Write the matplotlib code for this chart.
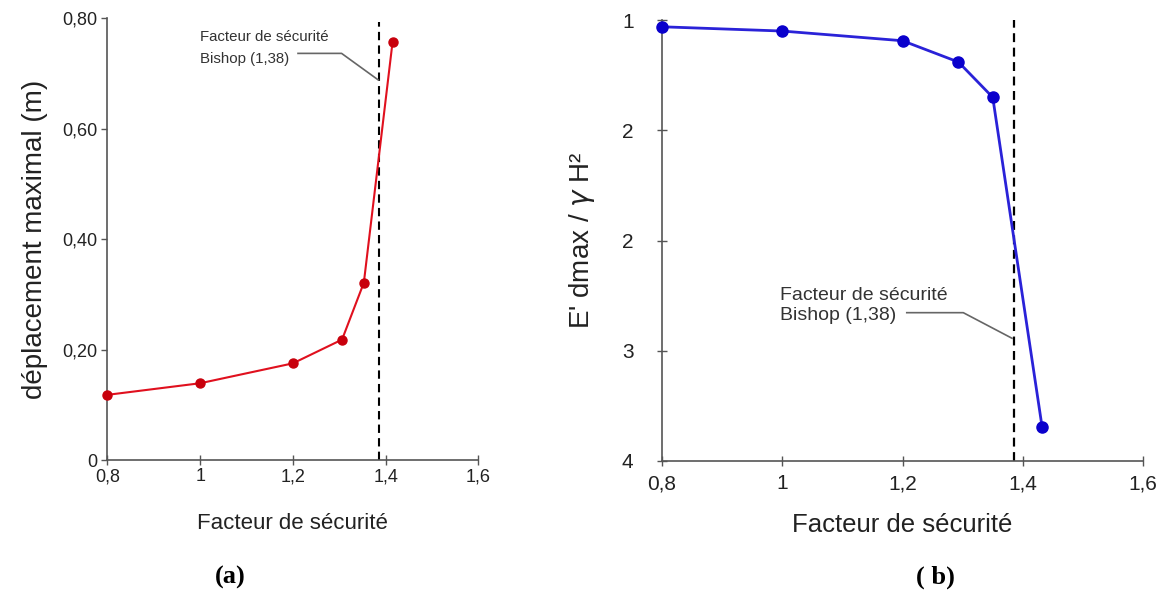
import matplotlib
matplotlib.use('Agg')
import matplotlib.pyplot as plt

plt.rcParams['font.family'] = ['Liberation Sans', 'DejaVu Sans']

# (a) maximum displacement vs safety factor
fs_a = [0.80, 1.00, 1.20, 1.306, 1.353, 1.415]
dmax_a = [0.118, 0.139, 0.175, 0.218, 0.321, 0.757]

# (b) normalised displacement vs safety factor
fs_b = [0.80, 1.00, 1.20, 1.293, 1.350, 1.432]
dnorm_b = [1.046, 1.075, 1.141, 1.286, 1.526, 3.767]

bishop = 1.385
x_ticks = [0.8, 1.0, 1.2, 1.4, 1.6]
x_labels = ['0,8', '1', '1,2', '1,4', '1,6']
ya_ticks = [0, 0.2, 0.4, 0.6, 0.8]
ya_labels = ['0', '0,20', '0,40', '0,60', '0,80']
yb_ticks = [1, 1.75, 2.5, 3.25, 4]
yb_labels = ['1', '2', '2', '3', '4']

spine_col = '#555555'
lead_col = '#666666'

fig = plt.figure(figsize=(11.67, 6.03), dpi=100)
ax1 = fig.add_axes([0.0921, 0.2371, 0.3178, 0.733])
ax2 = fig.add_axes([0.5673, 0.2355, 0.4122, 0.7313])


def style(ax, tick_fs, xpad, ypad):
    for s in ['top', 'right']:
        ax.spines[s].set_visible(False)
    for s in ['left', 'bottom']:
        ax.spines[s].set_color(spine_col)
        ax.spines[s].set_linewidth(1.2)
    ax.tick_params(axis='x', direction='inout', length=7, width=1, color=spine_col,
                   labelsize=tick_fs, labelcolor='#222222', pad=xpad)
    ax.tick_params(axis='y', direction='out', length=4, width=1, color=spine_col,
                   labelsize=tick_fs, labelcolor='#222222', pad=ypad)
    ax.set_xlim(0.8, 1.6)
    ax.set_xticks(x_ticks)
    ax.set_xticklabels(x_labels)


# ---- panel (a)
style(ax1, 13, 2.5, 3.5)
ax1.plot(fs_a, dmax_a, color='#e0101e', lw=1.5, marker='o', ms=6.5,
         mfc='#c8000c', mec='#c8000c', clip_on=False, zorder=3)
ax1.axvline(bishop, ymin=0, ymax=0.99, color='black', lw=1.5, ls=(0, (4, 2.5)), zorder=2)
ax1.set_ylim(0, 0.8)
ax1.set_yticks(ya_ticks)
ax1.set_yticklabels(ya_labels)
ax1.set_ylabel('déplacement maximal (m)', fontsize=20, color='#222222', labelpad=10)
ax1.set_xlabel('Facteur de sécurité', fontsize=16, color='#222222', labelpad=20)
ax1.text(1.0, 0.765, 'Facteur de sécurité', fontsize=10.8, color='#333333', va='center', ha='left')
ax1.text(1.0, 0.725, 'Bishop (1,38)', fontsize=10.8, color='#333333', va='center', ha='left')
ax1.plot([1.211, 1.305, 1.384], [0.736, 0.736, 0.688], color=lead_col, lw=1.2, zorder=2)

# ---- panel (b)
style(ax2, 15, 6, 17)
ax2.tick_params(axis='y', direction='inout', length=7)
ax2.plot(fs_b, dnorm_b, color='#2a22d8', lw=2, marker='o', ms=8,
         mfc='#0a00cc', mec='#0a00cc', clip_on=False, zorder=3)
ax2.axvline(bishop, color='black', lw=1.6, ls=(0, (4, 2.5)), zorder=2)
ax2.set_ylim(4, 1)
ax2.set_yticks(yb_ticks)
ax2.set_yticklabels(yb_labels)
ax2.set_ylabel(r"E' dmax / $\gamma$ H²", fontsize=20, color='#222222', labelpad=18)
ax2.set_xlabel('Facteur de sécurité', fontsize=18.5, color='#222222', labelpad=14)
ax2.text(0.996, 2.871, 'Facteur de sécurité', fontsize=14, color='#333333', va='center', ha='left')
ax2.text(0.996, 3.007, 'Bishop (1,38)', fontsize=14, color='#333333', va='center', ha='left')
ax2.plot([1.207, 1.301, 1.382], [2.991, 2.991, 3.165], color=lead_col, lw=1.2, zorder=2)

fig.text(230 / 1167, 1 - 577 / 603, '(a)', fontsize=19, fontweight='bold',
         family='Liberation Serif', ha='center', va='center')
fig.text(935 / 1167, 1 - 577 / 603, '( b)', fontsize=19, fontweight='bold',
         family='Liberation Serif', ha='center', va='center')

fig.savefig('out.png', dpi=100)
